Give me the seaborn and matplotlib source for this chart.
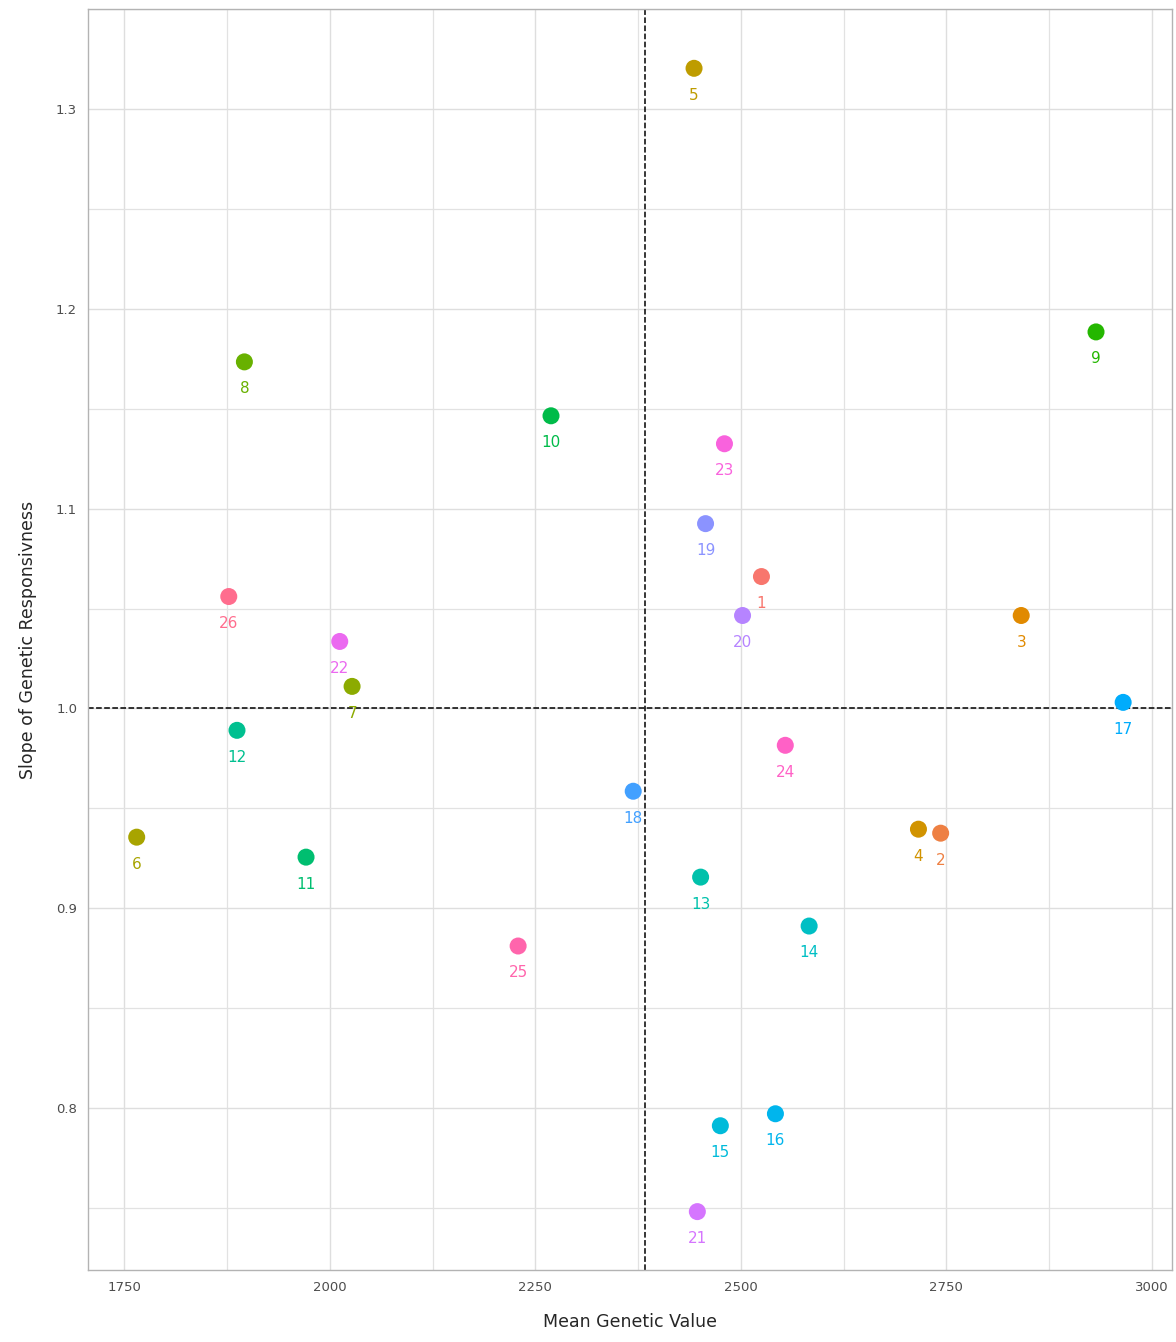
import numpy as np
import pandas as pd
import matplotlib.pyplot as plt
import seaborn as sns

genotypes = [str(i) for i in range(1, 27)]
mean_value = [2525, 2743, 2841, 2716, 2443, 1765, 2027, 1896, 2932, 2269,
              1971, 1887, 2451, 2583, 2475, 2542, 2965, 2369, 2457, 2502,
              2447, 2012, 2480, 2554, 2229, 1877]
slope = [1.066, 0.9375, 1.0465, 0.9395, 1.3205, 0.9355, 1.011, 1.1735, 1.1885, 1.1465,
         0.9255, 0.989, 0.9155, 0.891, 0.791, 0.797, 1.003, 0.9585, 1.0925, 1.0465,
         0.748, 1.0335, 1.1325, 0.9815, 0.881, 1.056]


def hcl_to_hex(h, c, l):
    # polar Luv -> sRGB, as ggplot's hue_pal does
    xn, yn, zn = 95.047, 100.0, 108.883
    un = 4 * xn / (xn + 15 * yn + 3 * zn)
    vn = 9 * yn / (xn + 15 * yn + 3 * zn)
    u = c * np.cos(np.radians(h))
    v = c * np.sin(np.radians(h))
    y = yn * ((l + 16) / 116) ** 3 if l > 8 else yn * l / 903.3
    up = u / (13 * l) + un
    vp = v / (13 * l) + vn
    x = 9 * y * up / (4 * vp)
    z = y * (12 - 3 * up - 20 * vp) / (4 * vp)
    xyz = np.array([x, y, z]) / 100
    m = np.array([[3.2404542, -1.5371385, -0.4985314],
                  [-0.9692660, 1.8760108, 0.0415560],
                  [0.0556434, -0.2040259, 1.0572252]])
    rgb = m @ xyz
    rgb = np.where(rgb <= 0.0031308, 12.92 * rgb, 1.055 * np.abs(rgb) ** (1 / 2.4) - 0.055)
    rgb = np.clip(rgb, 0, 1)
    return "#%02x%02x%02x" % tuple(int(round(k * 255)) for k in rgb)


hues = np.linspace(15, 375, len(genotypes) + 1)[:-1]
palette = {g: hcl_to_hex(h, 100, 65) for g, h in zip(genotypes, hues)}

df = pd.DataFrame({"genotype": genotypes, "mean": mean_value, "slope": slope})

sns.set_style("whitegrid")
fig, ax = plt.subplots(figsize=(11.76, 13.42), dpi=100)
sns.scatterplot(data=df, x="mean", y="slope", hue="genotype", palette=palette,
                s=150, edgecolor="none", legend=False, ax=ax, zorder=3)
for _, r in df.iterrows():
    ax.text(r["mean"], r["slope"] - 0.0135, r["genotype"], color=palette[r["genotype"]],
            ha="center", va="center", fontsize=11, zorder=4)

ax.axvline(np.mean(mean_value), color="black", ls="--", lw=1.1, zorder=2)
ax.axhline(1.0, color="black", ls="--", lw=1.1, zorder=2)

ax.set_xlim(1706, 3025)
ax.set_ylim(0.719, 1.349)
ax.set_xticks([1750, 2000, 2250, 2500, 2750, 3000])
ax.set_yticks([0.8, 0.9, 1.0, 1.1, 1.2, 1.3])
ax.set_xticks(np.arange(1875, 3000, 250), minor=True)
ax.set_yticks(np.arange(0.75, 1.35, 0.1), minor=True)
ax.grid(which="major", color="#dedede", lw=1.0)
ax.grid(which="minor", color="#e2e2e2", lw=0.9)
ax.tick_params(axis="both", which="both", length=0, labelsize=9.5, labelcolor="#4d4d4d", pad=8)
for sp in ax.spines.values():
    sp.set_color("#b3b3b3")
    sp.set_linewidth(1)
ax.set_xlabel("Mean Genetic Value", fontsize=12.5, labelpad=14)
ax.set_ylabel("Slope of Genetic Responsivness", fontsize=12.5, labelpad=14)

fig.subplots_adjust(left=0.075, right=0.997, top=0.993, bottom=0.054)
fig.savefig("out.png", dpi=100)
